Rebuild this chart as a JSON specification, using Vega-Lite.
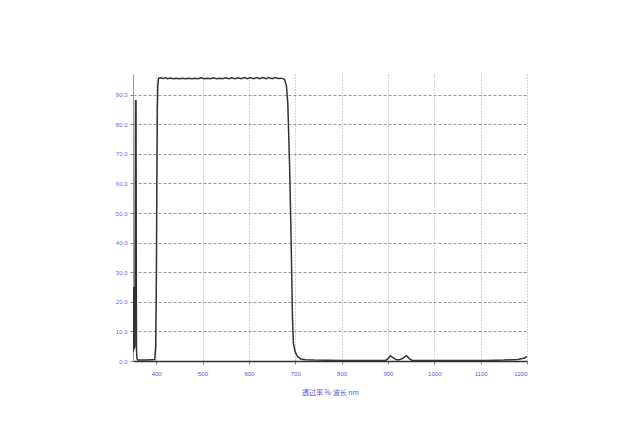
{
  "$schema": "https://vega.github.io/schema/vega-lite/v6.json",
  "autosize": "none",
  "width": 394,
  "height": 287,
  "padding": {"left": 133, "top": 74, "right": 103, "bottom": 75},
  "background": "white",
  "config": {"view": {"stroke": null}},
  "data": {"values": [
    {"w": 350, "t": 3}, {"w": 351, "t": 25}, {"w": 352, "t": 4}, {"w": 354, "t": 5},
    {"w": 355.5, "t": 88}, {"w": 356.5, "t": 88}, {"w": 357.5, "t": 4}, {"w": 358.5, "t": 0.8},
    {"w": 360, "t": 0.3}, {"w": 380, "t": 0.3}, {"w": 397, "t": 0.5}, {"w": 399, "t": 5},
    {"w": 400.5, "t": 30}, {"w": 401.5, "t": 60}, {"w": 402.5, "t": 85}, {"w": 403.5, "t": 93},
    {"w": 405, "t": 95.5}, {"w": 410, "t": 95.7}, {"w": 415, "t": 95.5}, {"w": 420, "t": 95.7},
    {"w": 425, "t": 95.4}, {"w": 430, "t": 95.6}, {"w": 437, "t": 95.4}, {"w": 443, "t": 95.6},
    {"w": 450, "t": 95.4}, {"w": 457, "t": 95.6}, {"w": 463, "t": 95.4}, {"w": 470, "t": 95.6},
    {"w": 477, "t": 95.4}, {"w": 483, "t": 95.6}, {"w": 490, "t": 95.4}, {"w": 497, "t": 95.7},
    {"w": 503, "t": 95.4}, {"w": 510, "t": 95.6}, {"w": 517, "t": 95.4}, {"w": 523, "t": 95.7},
    {"w": 530, "t": 95.4}, {"w": 537, "t": 95.6}, {"w": 543, "t": 95.4}, {"w": 550, "t": 95.7},
    {"w": 557, "t": 95.4}, {"w": 563, "t": 95.7}, {"w": 570, "t": 95.4}, {"w": 577, "t": 95.7},
    {"w": 583, "t": 95.4}, {"w": 590, "t": 95.8}, {"w": 597, "t": 95.4}, {"w": 603, "t": 95.8},
    {"w": 610, "t": 95.4}, {"w": 617, "t": 95.8}, {"w": 623, "t": 95.4}, {"w": 630, "t": 95.8},
    {"w": 637, "t": 95.4}, {"w": 643, "t": 95.8}, {"w": 650, "t": 95.4}, {"w": 657, "t": 95.8},
    {"w": 663, "t": 95.5}, {"w": 670, "t": 95.6}, {"w": 677, "t": 95.2}, {"w": 681, "t": 93},
    {"w": 684, "t": 87}, {"w": 688, "t": 65}, {"w": 691, "t": 42}, {"w": 694, "t": 15},
    {"w": 696, "t": 6}, {"w": 700, "t": 3}, {"w": 705, "t": 1.5}, {"w": 712, "t": 0.7},
    {"w": 722, "t": 0.4}, {"w": 740, "t": 0.3}, {"w": 800, "t": 0.2}, {"w": 895, "t": 0.2},
    {"w": 900, "t": 0.8}, {"w": 905, "t": 1.8}, {"w": 910, "t": 1.2}, {"w": 918, "t": 0.4},
    {"w": 925, "t": 0.4}, {"w": 933, "t": 1.0}, {"w": 940, "t": 1.8}, {"w": 946, "t": 0.8},
    {"w": 952, "t": 0.2}, {"w": 1000, "t": 0.2}, {"w": 1110, "t": 0.2}, {"w": 1150, "t": 0.3},
    {"w": 1180, "t": 0.5}, {"w": 1195, "t": 1.0}, {"w": 1200, "t": 1.6}
  ]},
  "mark": {"type": "line", "color": "#333333", "strokeWidth": 1.5, "clip": true},
  "encoding": {
    "x": {
      "field": "w", "type": "quantitative",
      "scale": {"domain": [350, 1200], "nice": false, "zero": false},
      "axis": {
        "values": [400, 500, 600, 700, 800, 900, 1000, 1100, 1200],
        "format": "d",
        "title": "透过率 %  波长 nm",
        "titleFont": "Noto Sans CJK SC", "titleFontSize": 7, "titleFontWeight": "normal",
        "titleColor": "#5a5ad0", "titlePadding": 12,
        "labelFontSize": 6, "labelColor": "#5a5ad0", "labelPadding": 6,
        "tickSize": 3, "tickColor": "#888888",
        "domainColor": "#333333", "domainWidth": 1.5,
        "grid": true, "gridColor": "#aaaaaa", "gridDash": [1, 2], "gridWidth": 1
      }
    },
    "y": {
      "field": "t", "type": "quantitative",
      "scale": {"domain": [0, 97], "nice": false},
      "axis": {
        "values": [0, 10, 20, 30, 40, 50, 60, 70, 80, 90],
        "format": ".1f",
        "title": null,
        "labelFontSize": 6, "labelColor": "#6a6ad8", "labelPadding": 3,
        "tickSize": 3, "tickColor": "#888888",
        "domainColor": "#999999", "domainWidth": 1,
        "grid": true, "gridColor": "#999999", "gridDash": [3, 2], "gridWidth": 1
      }
    }
  }
}
